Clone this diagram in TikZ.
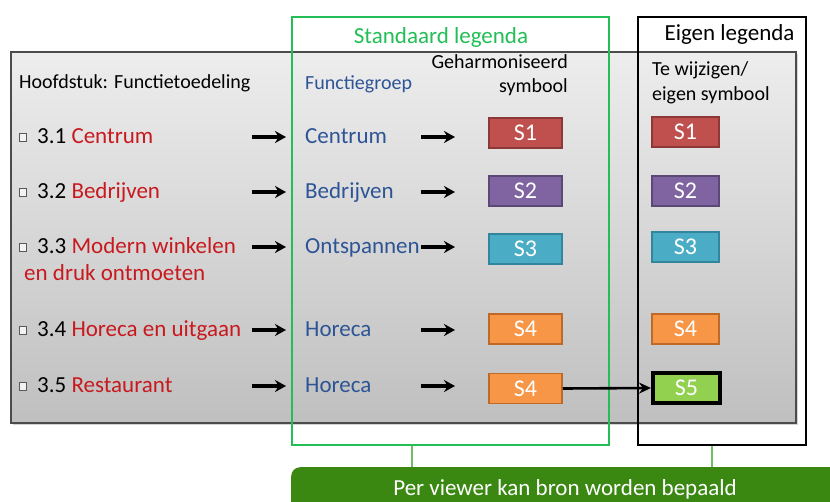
\documentclass[tikz,border=0pt]{standalone}
\usepackage{fontspec}
\setmainfont{Carlito}
\usetikzlibrary{arrows.meta,shadows}
\definecolor{sred}{RGB}{192,80,77}
\definecolor{sredd}{RGB}{140,56,54}
\definecolor{spur}{RGB}{128,100,162}
\definecolor{spurd}{RGB}{92,72,118}
\definecolor{stea}{RGB}{75,172,198}
\definecolor{stead}{RGB}{49,133,156}
\definecolor{sora}{RGB}{247,150,70}
\definecolor{sorad}{RGB}{190,105,40}
\definecolor{sgrn}{RGB}{146,208,80}
\definecolor{tred}{RGB}{200,25,30}
\definecolor{tblue}{RGB}{45,85,150}
\definecolor{lgreen}{RGB}{35,190,85}
\definecolor{cgreen}{RGB}{110,190,100}
\definecolor{dgreen}{RGB}{58,136,18}
\tikzset{
  txt/.style={inner sep=0pt, anchor=base west, font=\fontsize{23}{27}\selectfont},
  hdr/.style={inner sep=0pt, anchor=base west, font=\fontsize{20}{24}\selectfont},
  ttl/.style={inner sep=0pt, anchor=base west, font=\fontsize{23}{27}\selectfont},
  chk/.style={draw=black!65, fill=white!90!gray, line width=1.1pt, minimum width=7.5pt, minimum height=8pt, inner sep=0pt},
  sbox/.style={minimum width=73pt, minimum height=30pt, inner sep=0pt, line width=1.5pt, text=white, font=\fontsize{24}{28}\selectfont},
  rbox/.style={sbox, minimum width=67pt},
  rarrow/.style={line width=3.6pt, -{Stealth[length=11pt,width=12pt]}},
  conn/.style={line width=2.6pt, -{Stealth[length=12pt,width=11pt]}},
  gline/.style={draw=cgreen, line width=2pt},
}
\begin{document}
\begin{tikzpicture}[x=1pt,y=-1pt]
\useasboundingbox (0,0) rectangle (830,501);
% gray panel
\node[draw=black!70, line width=1.8pt, top color=black!7, bottom color=black!25,
  minimum width=785pt, minimum height=371pt, inner sep=0pt, anchor=north west,
  drop shadow={opacity=0.35, shadow xshift=2pt, shadow yshift=-2pt}] (panel) at (10,51) {};
% legend frames
\node[draw=lgreen, line width=2.4pt, minimum width=317pt, minimum height=428pt, inner sep=0pt, anchor=north west] (std) at (291,16) {};
\node[draw=black, line width=2.4pt, minimum width=168pt, minimum height=428pt, inner sep=0pt, anchor=north west] (own) at (637,16) {};
% titles
\node[ttl, text=lgreen, anchor=base] (stdt) at (441,43) {Standaard legenda};
\node[ttl, anchor=base] (ownt) at (729.5,40) {Eigen legenda};
% headers
\node[hdr] (h1) at (19,88) {Hoofdstuk: Functietoedeling};
\node[hdr, text=tblue] (h2) at (305,89) {Functiegroep};
\node[hdr, anchor=base east] (h3a) at (568,68) {Geharmoniseerd};
\node[hdr, anchor=base east] (h3b) at (568,92) {symbool};
\node[hdr] (h4a) at (652,75) {Te wijzigen/};
\node[hdr] (h4b) at (652,100) {eigen symbool};
% check boxes
\node[chk] (c1) at (23,137.5) {};
\node[chk] (c2) at (23,192.5) {};
\node[chk] (c3) at (23,247.5) {};
\node[chk] (c4) at (23,330.5) {};
\node[chk] (c5) at (23,386.5) {};
% left texts
\node[txt] (l1) at (37,143) {3.1 \textcolor{tred}{Centrum}};
\node[txt] (l2) at (37,198) {3.2 \textcolor{tred}{Bedrijven}};
\node[txt] (l3) at (37,253) {3.3 \textcolor{tred}{Modern winkelen}};
\node[txt, text=tred] (l3b) at (24,280) {en druk ontmoeten};
\node[txt] (l4) at (37,336) {3.4 \textcolor{tred}{Horeca en uitgaan}};
\node[txt] (l5) at (37,392) {3.5 \textcolor{tred}{Restaurant}};
% middle texts
\node[txt, text=tblue] (f1) at (305,143) {Centrum};
\node[txt, text=tblue] (f2) at (305,198) {Bedrijven};
\node[txt, text=tblue] (f3) at (305,253) {Ontspannen};
\node[txt, text=tblue] (f4) at (305,336) {Horeca};
\node[txt, text=tblue] (f5) at (305,392) {Horeca};
% arrows
\foreach \i/\y in {1/137,2/192,3/247,4/330,5/386}{
  \coordinate (a\i s) at (252,\y);
  \coordinate (a\i e) at (286,\y);
  \coordinate (b\i s) at (421,\y);
  \coordinate (b\i e) at (455,\y);
  \draw[rarrow] (a\i s) -- (a\i e);
  \draw[rarrow] (b\i s) -- (b\i e);
}
% harmonised symbols
\node[sbox, fill=sred, draw=sredd] (m1) at (525.5,133) {S1};
\node[sbox, fill=spur, draw=spurd] (m2) at (525.5,191) {S2};
\node[sbox, fill=stea, draw=stead] (m3) at (525.5,249) {S3};
\node[sbox, fill=sora, draw=sorad] (m4) at (525.5,329) {S4};
\node[sbox, fill=sora, draw=sorad] (m5) at (525.5,388.5) {S4};
% own symbols
\node[rbox, fill=sred, draw=sredd] (r1) at (685.5,132) {S1};
\node[rbox, fill=spur, draw=spurd] (r2) at (685.5,191) {S2};
\node[rbox, fill=stea, draw=stead] (r3) at (685.5,247) {S3};
\node[rbox, fill=sora, draw=sorad] (r4) at (685.5,329) {S4};
\node[rbox, fill=sgrn, draw=black, line width=4pt] (r5) at (686.5,388) {S5};
\draw[conn] (m5.east) -- (r5.west);
% bottom bar
\node[fill=dgreen, rounded corners=9pt, minimum width=560pt, minimum height=50pt, inner sep=0pt, anchor=north west] (bar) at (291,467) {};
\node[ttl, text=white, anchor=base] (bart) at (565,495) {Per viewer kan bron worden bepaald};
\coordinate (g1) at (412,0);
\coordinate (g2) at (712,0);
\draw[gline] (std.south -| g1) -- (bar.north -| g1);
\draw[gline] (own.south -| g2) -- (bar.north -| g2);
\end{tikzpicture}
\end{document}
